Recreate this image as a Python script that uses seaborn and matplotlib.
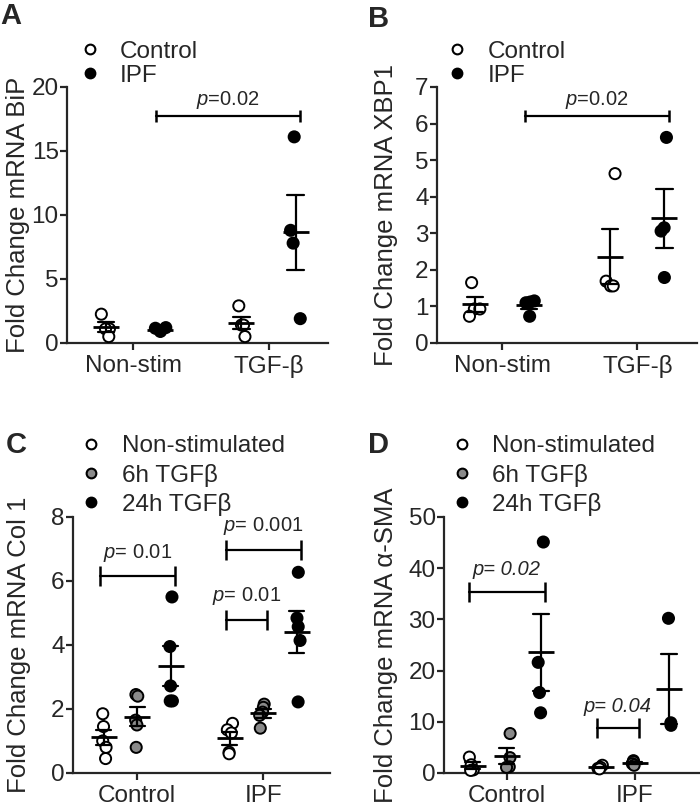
import numpy as np
import pandas as pd
import matplotlib
matplotlib.use('Agg')
import matplotlib.pyplot as plt
from matplotlib.lines import Line2D
import seaborn as sns

sns.set_style('ticks')
plt.rcParams['font.family'] = ['Liberation Sans', 'DejaVu Sans']
plt.rcParams['mathtext.fontset'] = 'custom'
plt.rcParams['mathtext.rm'] = 'Liberation Sans'
plt.rcParams['mathtext.it'] = 'Liberation Sans:italic'

### data
# A: BiP
stim_cats = ['Non-stim', 'TGF-β']
donor_hues = ['Control', 'IPF']
bip_nonstim_ctrl = [2.25, 1.1, 1.1, 0.5]
bip_nonstim_ipf = [1.2, 0.95, 0.9, 1.15]
bip_tgf_ctrl = [2.9, 1.4, 1.4, 0.5]
bip_tgf_ipf = [16.1, 8.8, 7.8, 1.9]

# B: XBP1
xbp1_nonstim_ctrl = [1.65, 0.93, 0.93, 0.73]
xbp1_nonstim_ipf = [1.12, 1.15, 1.1, 0.73]
xbp1_tgf_ctrl = [4.63, 1.69, 1.56, 1.56]
xbp1_tgf_ipf = [5.62, 3.15, 3.06, 1.79]

# C: Col 1
donor_cats = ['Control', 'IPF']
time_hues = ['Non-stimulated', '6h TGFβ', '24h TGFβ']
col1_ctrl_0h = [1.85, 1.45, 1.0, 0.8, 0.45]
col1_ctrl_6h = [2.45, 2.4, 1.65, 1.5, 0.8]
col1_ctrl_24h = [5.5, 3.95, 2.72, 2.25, 2.25]
col1_ipf_0h = [1.55, 1.35, 1.25, 0.65, 0.6]
col1_ipf_6h = [2.15, 2.05, 1.9, 1.8, 1.4]
col1_ipf_24h = [6.27, 4.84, 4.57, 4.14, 2.22]

# D: alpha-SMA
sma_ctrl_0h = [3.1, 1.6, 0.6, 0.5]
sma_ctrl_6h = [7.7, 3.0, 1.2, 1.1]
sma_ctrl_24h = [45.1, 21.6, 15.7, 11.75]
sma_ipf_0h = [1.5, 1.1, 0.9, 0.8]
sma_ipf_6h = [2.4, 2.2, 1.8, 1.5]
sma_ipf_24h = [30.2, 9.8, 9.3]

# significance brackets: (category, hue from), (category, hue to), height, label
bip_brackets = [(('Non-stim', 'IPF'), ('TGF-β', 'IPF'), 17.7, r'$\it{p}$=0.02')]
xbp1_brackets = [(('Non-stim', 'IPF'), ('TGF-β', 'IPF'), 6.2, r'$\it{p}$=0.02')]
col1_brackets = [
    (('Control', 'Non-stimulated'), ('Control', '24h TGFβ'), 6.15, r'$\it{p}$= 0.01'),
    (('IPF', 'Non-stimulated'), ('IPF', '24h TGFβ'), 6.98, r'$\it{p}$= 0.001'),
    (('IPF', 'Non-stimulated'), ('IPF', '6h TGFβ'), 4.78, r'$\it{p}$= 0.01'),
]
sma_brackets = [
    (('Control', 'Non-stimulated'), ('Control', '24h TGFβ'), 35.4, 'p= 0.02'),
    (('IPF', 'Non-stimulated'), ('IPF', '6h TGFβ'), 8.7, 'p= 0.04'),
]

two_colors = ['white', 'black']
three_colors = ['white', '#8a8a8a', 'black']


def long_df(cats, hues, groups):
    rows = []
    for ci, c in enumerate(cats):
        for hi, h in enumerate(hues):
            for v in groups[ci][hi]:
                rows.append({'cat': c, 'hue': h, 'val': v})
    return pd.DataFrame(rows)


df_bip = long_df(stim_cats, donor_hues,
                 [[bip_nonstim_ctrl, bip_nonstim_ipf], [bip_tgf_ctrl, bip_tgf_ipf]])
df_xbp1 = long_df(stim_cats, donor_hues,
                  [[xbp1_nonstim_ctrl, xbp1_nonstim_ipf], [xbp1_tgf_ctrl, xbp1_tgf_ipf]])
df_col1 = long_df(donor_cats, time_hues,
                  [[col1_ctrl_0h, col1_ctrl_6h, col1_ctrl_24h],
                   [col1_ipf_0h, col1_ipf_6h, col1_ipf_24h]])
df_sma = long_df(donor_cats, time_hues,
                 [[sma_ctrl_0h, sma_ctrl_6h, sma_ctrl_24h],
                  [sma_ipf_0h, sma_ipf_6h, sma_ipf_24h]])

FS = 17.5

np.random.seed(7)  # reproducible jitter only

fig = plt.figure(figsize=(7, 8.11), dpi=100)


def panel(rect, df, cats, hues, colors, ylim, yticks, xlim, ylabel, label_x,
          brackets, cap_size, text_off, leg_anchor, leg_spacing):
    ax = fig.add_axes(rect)
    n = len(hues)
    sns.stripplot(data=df, x='cat', y='val', hue='hue', order=cats, hue_order=hues,
                  palette=colors, dodge=True, jitter=0.085, size=8, edgecolor='black',
                  linewidth=1.4, legend=False, ax=ax)
    for coll in ax.collections:
        coll.set_clip_on(False)
        coll.set_zorder(3)
    dodge = 0.8 * (n - 1) / n
    sns.pointplot(data=df, x='cat', y='val', hue='hue', order=cats, hue_order=hues,
                  palette=['black'] * n, dodge=dodge, errorbar='se', markers='_',
                  linestyles='none', capsize=0.12, markersize=19, markeredgewidth=2,
                  err_kws={'linewidth': 1.6}, legend=False, ax=ax)
    for ln in ax.lines:
        ln.set_zorder(4)

    # brackets
    step = 0.8 / n
    def pos(c, h):
        return cats.index(c) - 0.4 + step * (hues.index(h) + 0.5)
    for (c1, h1), (c2, h2), y, txt in brackets:
        x1, x2 = pos(c1, h1) - 0.03, pos(c2, h2) + 0.03
        ax.plot([x1, x2], [y, y], color='black', lw=1.6, marker='|',
                markersize=cap_size, markeredgewidth=1.8, clip_on=False)
        style = 'italic' if not txt.startswith('$') else 'normal'
        ax.annotate(txt, xy=((x1 + x2) / 2, y), xytext=(0, text_off),
                    textcoords='offset points', ha='center', va='bottom',
                    fontsize=14.5, style=style)

    ax.set_xlim(*xlim)
    ax.set_ylim(*ylim)
    ax.set_yticks(yticks)
    ax.set_xlabel('')
    ax.set_ylabel(ylabel, fontsize=18.5)
    ax.yaxis.set_label_coords(label_x, 0.5)
    sns.despine(ax=ax)
    for s in ['left', 'bottom']:
        ax.spines[s].set_linewidth(1.6)
    ax.tick_params(axis='both', width=1.6, length=5, labelsize=FS)
    ax.tick_params(axis='y', pad=1)
    ax.tick_params(axis='x', pad=4)

    handles = [Line2D([], [], ls='', marker='o', ms=7, mfc=c, mec='black', mew=1.5)
               for c in colors]
    ax.legend(handles, hues, loc='lower left', bbox_to_anchor=leg_anchor,
              frameon=False, borderpad=0, borderaxespad=0, handlelength=1.0,
              handletextpad=0.75, labelspacing=leg_spacing, fontsize=FS)
    return ax


panel([0.0957, 0.5771, 0.3729, 0.3157], df_bip, stim_cats, donor_hues, two_colors,
      (0, 20), [0, 5, 10, 15, 20], (-0.49, 1.44), 'Fold Change mRNA BiP', -0.142,
      bip_brackets, 9, 4, (0.04, 1.0), 0.08)
panel([0.6243, 0.5771, 0.3714, 0.3157], df_xbp1, stim_cats, donor_hues, two_colors,
      (0, 7), range(0, 8), (-0.48, 1.44), 'Fold Change mRNA XBP1', -0.15,
      xbp1_brackets, 9, 4, (0.03, 1.0), 0.08)
panel([0.1043, 0.0469, 0.3671, 0.3157], df_col1, donor_cats, time_hues, three_colors,
      (0, 8), [0, 2, 4, 6, 8], (-0.51, 1.53), 'Fold Change mRNA Col 1', -0.165,
      col1_brackets, 14, 9, (0.024, 1.005), 0.25)
panel([0.6343, 0.0469, 0.3657, 0.3157], df_sma, donor_cats, time_hues, three_colors,
      (0, 50), [0, 10, 20, 30, 40, 50], (-0.49, 1.51), 'Fold Change mRNA α-SMA', -0.18,
      sma_brackets, 14, 9, (0.022, 1.005), 0.25)

# panel letters
for x, y, letter in [(0, 24, 'A'), (368, 27, 'B'), (6, 453, 'C'), (368, 453, 'D')]:
    fig.text(x / 700, 1 - y / 811, letter, fontsize=21, fontweight='bold',
             ha='left', va='baseline')

fig.savefig('out.png', dpi=100)
